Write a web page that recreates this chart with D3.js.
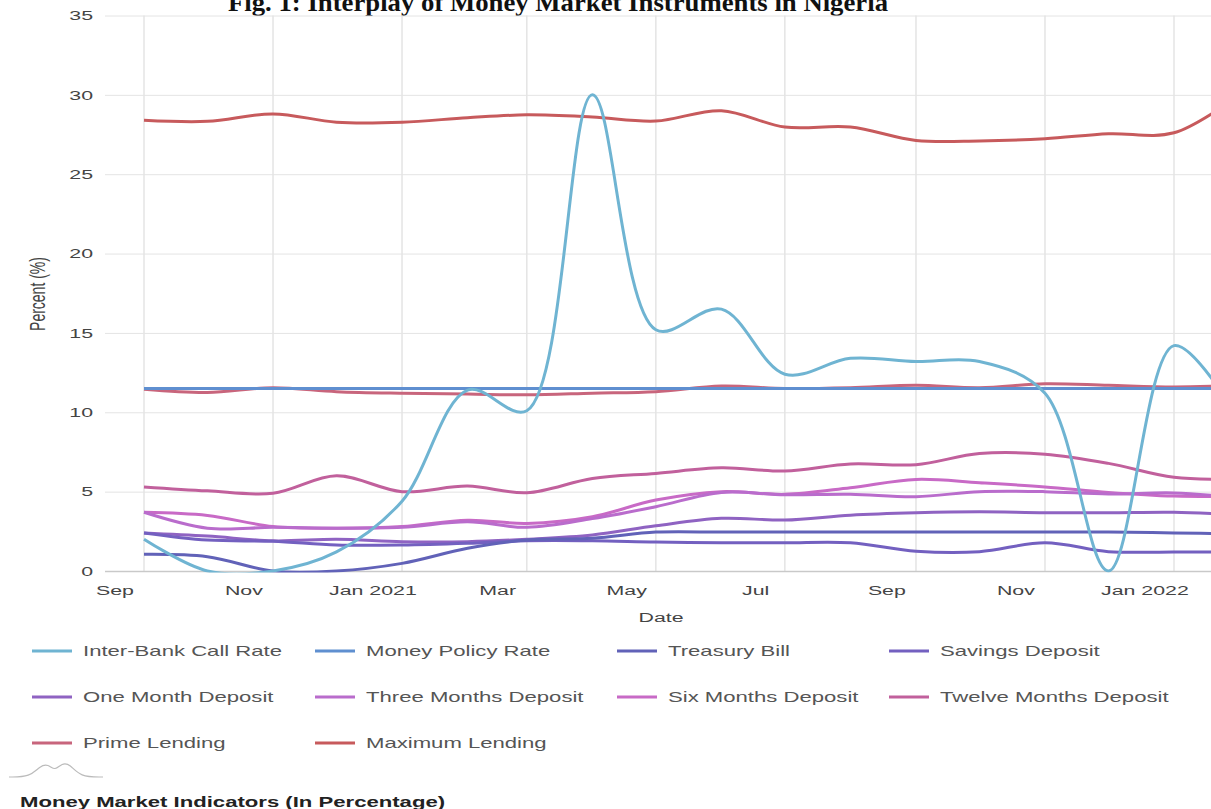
<!DOCTYPE html>
<html>
<head>
<meta charset="utf-8">
<script src="https://cdn.jsdelivr.net/npm/d3@7"></script>
<style>
  body { margin: 0; background: #fff; }
  svg { display: block; font-family: "Liberation Sans", Arial, sans-serif; }
</style>
</head>
<body>
<svg id="chart" width="1211" height="809"></svg>
<script>
// monthly readings, plotted mid-month
const months = [
  '2020-09-15', '2020-10-15', '2020-11-15', '2020-12-15', '2021-01-15', '2021-02-15',
  '2021-03-15', '2021-04-15', '2021-05-15', '2021-06-15', '2021-07-15', '2021-08-15',
  '2021-09-15', '2021-10-15', '2021-11-15', '2021-12-15', '2022-01-15', '2022-02-15',
];
const interBank = [2.0, 0, 0, 1.2, 4.4, 11.4, 10.1, 30.0, 15.2, 16.5, 12.4, 13.4, 13.2, 13.2, 11.2, 0, 14.2, 9.5];
const policyRate = [11.5, 11.5, 11.5, 11.5, 11.5, 11.5, 11.5, 11.5, 11.5, 11.5, 11.5, 11.5, 11.5, 11.5, 11.5, 11.5, 11.5, 11.5];
const treasuryBill = [1.05, 0.9, 0, 0, 0.48, 1.43, 1.95, 2.06, 2.45, 2.45, 2.45, 2.45, 2.45, 2.45, 2.45, 2.45, 2.4, 2.33];
const savings = [2.4, 1.95, 1.87, 1.64, 1.64, 1.75, 1.9, 1.9, 1.82, 1.78, 1.78, 1.78, 1.25, 1.22, 1.78, 1.22, 1.2, 1.2];
const oneMonth = [2.4, 2.2, 1.9, 2.0, 1.85, 1.85, 2.0, 2.27, 2.85, 3.32, 3.21, 3.52, 3.67, 3.73, 3.67, 3.67, 3.7, 3.55];
const threeMonths = [3.7, 2.7, 2.75, 2.7, 2.75, 3.1, 2.75, 3.3, 4.05, 4.95, 4.8, 4.83, 4.68, 5.0, 5.0, 4.85, 4.92, 4.6];
const sixMonths = [3.7, 3.5, 2.8, 2.7, 2.8, 3.2, 3.0, 3.42, 4.47, 5.0, 4.83, 5.25, 5.77, 5.56, 5.3, 4.95, 4.72, 4.7];
const twelveMonths = [5.3, 5.05, 4.9, 6.0, 5.0, 5.35, 4.93, 5.83, 6.15, 6.5, 6.3, 6.74, 6.7, 7.4, 7.36, 6.78, 5.9, 5.8];
const primeLending = [11.45, 11.25, 11.55, 11.3, 11.2, 11.15, 11.1, 11.2, 11.3, 11.65, 11.5, 11.55, 11.7, 11.55, 11.8, 11.7, 11.6, 11.7];
const maxLending = [28.4, 28.33, 28.8, 28.28, 28.28, 28.56, 28.74, 28.6, 28.35, 29.0, 27.97, 27.97, 27.13, 27.1, 27.24, 27.55, 27.61, 30.0];

const seriesNames = [
  'Inter-Bank Call Rate', 'Money Policy Rate', 'Treasury Bill', 'Savings Deposit',
  'One Month Deposit', 'Three Months Deposit', 'Six Months Deposit', 'Twelve Months Deposit',
  'Prime Lending', 'Maximum Lending',
];
const seriesValues = [
  interBank, policyRate, treasuryBill, savings, oneMonth,
  threeMonths, sixMonths, twelveMonths, primeLending, maxLending,
];
const seriesColors = [
  '#6fb4d2', '#5f8fd0', '#6162b8', '#7360c0', '#8f63c2',
  '#b96ccc', '#c86ac6', '#c1609c', '#c8657c', '#c75a5c',
];

const yTicks = [0, 5, 10, 15, 20, 25, 30, 35];
const xTicks = ['2020-09-01', '2020-11-01', '2021-01-01', '2021-03-01', '2021-05-01',
  '2021-07-01', '2021-09-01', '2021-11-01', '2022-01-01'];

// the whole figure is stretched sideways, text included
const SX = 1.58;
const plot = { left: 105, right: 1211, top: 15.5, bottom: 571 };

const parse = d3.timeParse('%Y-%m-%d');
const dates = months.map(parse);
const tickDates = xTicks.map(parse);
const gridDates = tickDates.map(d => d3.timeDay.offset(d, 14));

const x = d3.scaleTime()
  .domain([parse('2020-09-15'), parse('2022-01-15')])
  .range([144, 1174]);
const y = d3.scaleLinear().domain([0, 35]).range([plot.bottom, plot.top]);

const svg = d3.select('#chart');

svg.append('defs').append('clipPath').attr('id', 'plot-clip')
  .append('rect')
  .attr('x', plot.left)
  .attr('y', plot.top - 2)
  .attr('width', plot.right - plot.left)
  .attr('height', plot.bottom - plot.top + 3.5);

// title of the figure (cut off at the top)
svg.append('text')
  .attr('x', 558)
  .attr('y', 11)
  .attr('text-anchor', 'middle')
  .attr('textLength', 660)
  .attr('lengthAdjust', 'spacingAndGlyphs')
  .style('font-family', '"Liberation Serif", "Times New Roman", serif')
  .style('font-weight', 'bold')
  .style('font-size', '26px')
  .attr('fill', '#111')
  .text('Fig. 1: Interplay of Money Market Instruments in Nigeria');

// vertical grid
svg.append('g')
  .selectAll('line')
  .data(gridDates)
  .join('line')
  .attr('x1', d => x(d))
  .attr('x2', d => x(d))
  .attr('y1', plot.top)
  .attr('y2', plot.bottom)
  .attr('stroke', '#e4e4e4')
  .attr('stroke-width', 1.5);

// y axis + horizontal grid
const yGroup = svg.append('g')
  .attr('transform', `translate(${plot.left},0)`)
  .call(d3.axisLeft(y).tickValues(yTicks).tickSize(-(plot.right - plot.left)));
yGroup.select('.domain').remove();
yGroup.selectAll('.tick line')
  .attr('stroke', d => (d === 0 ? '#c9c9c9' : '#e4e4e4'))
  .attr('stroke-width', d => (d === 0 ? 1.5 : 1));
yGroup.selectAll('.tick text')
  .attr('x', -12 / SX)
  .attr('transform', `scale(${SX},1)`)
  .attr('fill', '#444')
  .style('font-size', '13.5px')
  .style('font-family', '"Liberation Sans", Arial, sans-serif');

// x axis labels at month starts
const monthFmt = d3.timeFormat('%b');
const yearFmt = d3.timeFormat('%b %Y');
const xGroup = svg.append('g')
  .attr('transform', `translate(0,${plot.bottom})`)
  .call(d3.axisBottom(x)
    .tickValues(tickDates)
    .tickSize(0)
    .tickPadding(14)
    .tickFormat(d => (d.getMonth() === 0 ? yearFmt(d) : monthFmt(d))));
xGroup.select('.domain').remove();
xGroup.selectAll('.tick text')
  .attr('transform', `scale(${SX},1)`)
  .attr('fill', '#444')
  .style('font-size', '13.5px')
  .style('font-family', '"Liberation Sans", Arial, sans-serif');

// axis titles
svg.append('text')
  .attr('transform', `translate(661,622) scale(${SX},1)`)
  .attr('text-anchor', 'middle')
  .attr('fill', '#444')
  .style('font-size', '13.5px')
  .text('Date');

svg.append('text')
  .attr('transform', `translate(45,294) scale(${SX},1) rotate(-90)`)
  .attr('text-anchor', 'middle')
  .attr('fill', '#444')
  .style('font-size', '14px')
  .text('Percent (%)');

// lines
const line = d3.line()
  .x((d, i) => x(dates[i]))
  .y(d => y(d))
  .curve(d3.curveCatmullRom.alpha(0.5));

const series = seriesNames.map((name, i) => ({ name, values: seriesValues[i], color: seriesColors[i] }));

svg.append('g')
  .attr('clip-path', 'url(#plot-clip)')
  .selectAll('path')
  .data(series.slice().reverse())
  .join('path')
  .attr('fill', 'none')
  .attr('stroke', d => d.color)
  .attr('stroke-width', 3)
  .attr('stroke-linejoin', 'round')
  .attr('d', d => line(d.values));

// legend
const legendCols = [32, 315, 617, 889];
const legendRows = [651, 697, 743];
const legend = svg.append('g')
  .selectAll('g')
  .data(series)
  .join('g')
  .attr('transform', (d, i) => `translate(${legendCols[i % 4]},${legendRows[Math.floor(i / 4)]})`);

legend.append('line')
  .attr('x1', 0)
  .attr('x2', 40)
  .attr('stroke', d => d.color)
  .attr('stroke-width', 3);

legend.append('text')
  .attr('transform', `translate(51,0) scale(${SX},1)`)
  .attr('dy', '0.35em')
  .attr('fill', '#555')
  .style('font-size', '14px')
  .text(d => d.name);

// little chart icon above the caption
const iconPts = [[9, 777], [30, 777], [40, 766], [48, 764], [55, 771], [62, 763], [70, 764], [80, 777], [103, 777]];
svg.append('path')
  .attr('d', d3.line().curve(d3.curveBasis)(iconPts))
  .attr('fill', 'none')
  .attr('stroke', '#bbb')
  .attr('stroke-width', 1.2);

svg.append('text')
  .attr('transform', `translate(20,802) scale(${SX},1)`)
  .attr('dy', '0.35em')
  .attr('fill', '#222')
  .style('font-size', '14px')
  .style('font-weight', 'bold')
  .text('Money Market Indicators (In Percentage)');
</script>
</body>
</html>
